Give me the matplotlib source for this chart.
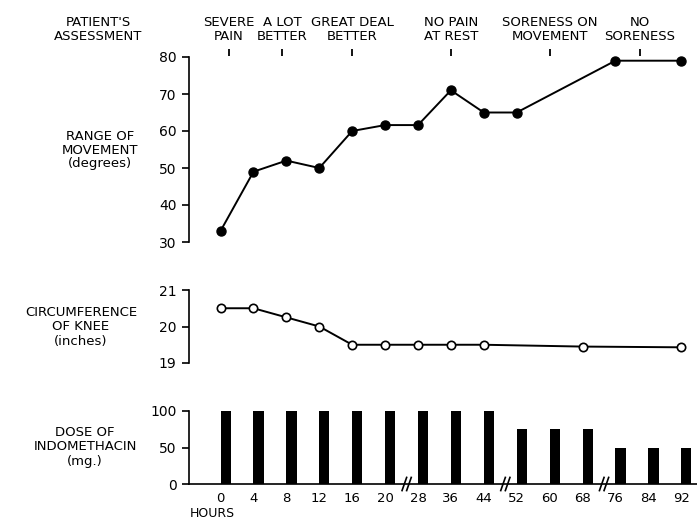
import numpy as np
import matplotlib
matplotlib.use("Agg")
import matplotlib.pyplot as plt

# data
hours = [0, 4, 8, 12, 16, 20, 28, 36, 44, 52, 60, 68, 76, 84, 92]
dose = [100, 100, 100, 100, 100, 100, 100, 100, 100, 75, 75, 75, 50, 50, 50]

rom_hours = [0, 4, 8, 12, 16, 20, 28, 36, 44, 52, 76, 92]
rom = [33, 49, 52, 50, 60, 61.6, 61.6, 71, 65, 65, 79, 79]

knee_hours = [0, 4, 8, 12, 16, 20, 28, 36, 44, 68, 92]
knee = [20.5, 20.5, 20.25, 20.0, 19.5, 19.5, 19.5, 19.5, 19.5, 19.45, 19.43]

assess_hours = [1, 7.5, 16, 36, 60, 82]
assess_labels = ["SEVERE\nPAIN", "A LOT\nBETTER", "GREAT DEAL\nBETTER",
                 "NO PAIN\nAT REST", "SORENESS ON\nMOVEMENT", "NO\nSORENESS"]

breaks_after = [20, 44, 68]

plt.rcParams['font.family'] = ['DejaVu Sans']
FS = 9.5

idx = np.arange(len(hours))


def to_idx(h):
    # hours axis is not linear, positions follow the listed hours
    return np.interp(h, hours, idx)


fig = plt.figure(figsize=(6.97, 5.22), dpi=100)
W, H = 697, 522
left = 189 / W
width = 1 - left
xlim = (-0.96, 14.48)

ax1 = fig.add_axes([left, 1 - 242 / H, width, (242 - 57) / H])
ax2 = fig.add_axes([left, 1 - 363 / H, width, (363 - 290) / H])
ax3 = fig.add_axes([left, 1 - 484 / H, width, (484 - 411) / H])

for ax in (ax1, ax2, ax3):
    ax.set_xlim(*xlim)
    for s in ('top', 'right'):
        ax.spines[s].set_visible(False)
    ax.spines['left'].set_linewidth(1.2)
    ax.tick_params(axis='y', length=5, width=1.2, pad=4, labelsize=10)
    ax.patch.set_alpha(0)

# range of movement
ax1.plot(to_idx(rom_hours), rom, '-o', color='black', lw=1.4, ms=6.5, clip_on=False)
ax1.set_ylim(30, 80)
ax1.set_yticks([30, 40, 50, 60, 70, 80])
ax1.spines['bottom'].set_visible(False)
ax1.set_xticks([])

# patient's assessment
tr = ax1.get_xaxis_transform()
ax1.vlines(to_idx(assess_hours), 1.005, 1.043, transform=tr, color='black', lw=1.3, clip_on=False)
for h, lab in zip(assess_hours, assess_labels):
    ax1.text(to_idx(h), 1.146, lab, transform=tr, ha='center', va='center',
             multialignment='center', fontsize=FS, linespacing=1.1)

# circumference of knee
ax2.plot(to_idx(knee_hours), knee, '-o', color='black', mfc='white', lw=1.4, ms=6,
         mew=1.2, clip_on=False)
ax2.set_ylim(19, 21)
ax2.set_yticks([19, 20, 21])
ax2.spines['bottom'].set_visible(False)
ax2.set_xticks([])

# dose of indomethacin
ax3.bar(idx, dose, width=0.31, align='edge', color='black')
ax3.set_ylim(0, 100)
ax3.set_yticks([0, 50, 100])
ax3.spines['bottom'].set_linewidth(1.2)
ax3.set_xticks(idx)
ax3.set_xticklabels([str(h) for h in hours])
ax3.tick_params(axis='x', length=0, pad=6, labelsize=9.5)

tr3 = ax3.get_xaxis_transform()
for b in breaks_after:
    xc = to_idx(b) + 0.655
    for dx in (-0.07, 0.07):
        ax3.plot([xc + dx - 0.07, xc + dx + 0.07], [-0.09, 0.09], transform=tr3,
                 color='black', lw=1.2, clip_on=False)

# left labels
fig.text(98 / W, 1 - 30 / H, "PATIENT'S\nASSESSMENT", ha='center', va='center',
         multialignment='center', fontsize=FS, linespacing=1.1)
fig.text(100 / W, 1 - 150 / H, "RANGE OF\nMOVEMENT\n(degrees)", ha='center', va='center',
         multialignment='center', fontsize=FS, linespacing=1.1)
fig.text(81 / W, 1 - 327 / H, "CIRCUMFERENCE\nOF KNEE\n(inches)", ha='center', va='center',
         multialignment='center', fontsize=FS, linespacing=1.1)
fig.text(85 / W, 1 - 447 / H, "DOSE OF\nINDOMETHACIN\n(mg.)", ha='center', va='center',
         multialignment='center', fontsize=FS, linespacing=1.1)
fig.text(212 / W, 1 - 520 / H, "HOURS", ha='center', va='bottom', fontsize=9)

fig.savefig("out.png", dpi=100)
